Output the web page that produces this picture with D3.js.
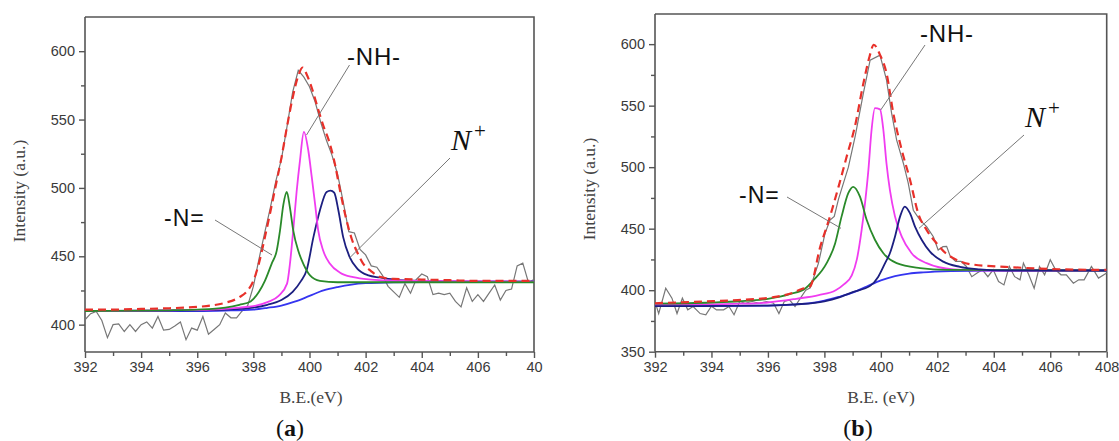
<!DOCTYPE html>
<html><head><meta charset="utf-8">
<script src="https://cdn.jsdelivr.net/npm/d3@7/dist/d3.min.js"></script>
<style>
html,body{margin:0;padding:0;background:#fff;}
svg{display:block;}
</style></head>
<body><svg id="chart" width="1119" height="441"></svg>
<script>
// ---------------- DATA ----------------
const xTicks = [392, 394, 396, 398, 400, 402, 404, 406, 408];
const xTickLabelsA = ["392","394","396","398","400","402","404","406","40"];
const xTickLabelsB = ["392","394","396","398","400","402","404","406","408"];
const yTicksA = [400, 450, 500, 550, 600];
const yTicksB = [350, 400, 450, 500, 550, 600];

// Panel (a)
const aRaw = [[392.0,403.6],[392.2,408],[392.4,409.7],[392.6,403],[392.8,390.5],[393.0,400],[393.2,400.5],[393.4,395],[393.6,400],[393.8,395],[394.0,400],[394.2,402],[394.4,397.5],[394.6,406],[394.8,396],[395.0,396.5],[395.2,399],[395.4,402],[395.6,389],[395.8,397.5],[396.0,396],[396.2,406],[396.4,393],[396.6,396.5],[396.8,400],[397.0,408.5],[397.2,405],[397.4,405],[397.6,410],[397.8,414],[398.0,428],[398.2,448],[398.4,467],[398.6,485],[398.8,505],[399.0,521],[399.2,545],[399.4,570],[399.6,586],[399.8,581],[400.0,574],[400.2,563],[400.4,548],[400.6,535],[400.8,524],[401.0,510],[401.2,490],[401.4,468],[401.6,467],[401.8,455],[402.0,451],[402.2,443],[402.4,442],[402.6,436],[402.8,428],[403.0,424],[403.2,420],[403.4,430],[403.6,423],[403.8,433],[404.0,437],[404.2,435],[404.4,422],[404.6,423],[404.8,422],[405.0,423],[405.2,417],[405.4,413],[405.6,427],[405.8,417],[406.0,422],[406.2,417],[406.4,423],[406.6,429],[406.8,418],[407.0,425],[407.2,426],[407.4,443],[407.6,445],[407.8,431],[408.0,433]];
const aEnvelope = [[392,411],[393,411],[394,411.5],[395,412],[396,413],[396.5,414],[397,416],[397.5,420],[397.8,425],[398,432],[398.2,445],[398.4,463],[398.6,482],[398.8,502],[399,522],[399.2,545],[399.4,566],[399.6,582],[399.75,588],[399.9,583],[400.1,572],[400.3,558],[400.5,545],[400.7,534],[400.9,518],[401.1,497],[401.3,478],[401.5,463],[401.7,453],[401.9,445],[402.2,439],[402.5,435],[403,433.5],[404,433],[405,432.5],[406,432],[408,432]];
const aBackground = [[392,410],[396,410],[397,410.3],[398,411],[398.5,412.3],[399,414],[399.5,417],[400,421],[400.5,425],[401,427.5],[401.5,429.3],[402,430.3],[403,431],[405,431.3],[408,431.5]];
const aNplus = [[392,410],[396,410.5],[397,411],[398,412.5],[398.5,414.5],[399,418],[399.4,424],[399.7,432],[399.9,440],[400.14,464],[400.37,483.5],[400.61,497],[400.75,498],[400.88,496.5],[401.03,483.5],[401.2,464],[401.44,449],[401.7,441],[402.1,436],[402.5,434.5],[403,433],[404,432],[406,431.5],[408,431.5]];
const aNH = [[392,410],[395,410.5],[396.5,411],[397.5,412.5],[398,413.5],[398.5,416.5],[398.9,421],[399.2,430],[399.3,444],[399.42,469],[399.54,497],[399.66,520],[399.8,541],[399.96,527],[400.08,508],[400.2,488],[400.31,469],[400.49,454],[400.73,444.5],[401.09,438],[401.56,434.7],[402.2,433],[403,432.3],[404,432],[408,431.5]];
const aN = [[392,410],[395,410.5],[396,411],[397,412.5],[397.5,414.5],[397.9,417],[398.2,424],[398.41,432],[398.65,444.5],[398.83,454],[398.95,469],[399.07,488],[399.19,497],[399.3,486],[399.42,469],[399.6,454],[399.78,444.5],[400.02,436],[400.37,432],[401,431],[408,431]];

// Panel (b)
const bRaw = [[392.0,390.8],[392.13,381],[392.38,401.6],[392.6,393.5],[392.78,381],[392.97,393.5],[393.16,384],[393.35,386.7],[393.6,381],[393.8,380],[394.0,387],[394.18,384],[394.43,384],[394.62,386.7],[394.8,380],[395.0,390.8],[395.19,389.4],[395.44,390.8],[395.7,389.4],[395.95,390.8],[396.2,389.4],[396.39,381],[396.58,390.8],[396.77,392],[396.96,386.7],[397.15,393.5],[397.34,400],[397.5,402],[397.79,422],[398.02,446],[398.2,457],[398.35,460],[398.5,474],[398.85,500],[399.09,525],[399.38,560],[399.62,587],[399.97,591],[400.2,571],[400.38,544],[400.56,522],[400.8,503],[400.97,487],[401.15,465],[401.39,457],[401.62,451.7],[401.86,443.5],[402.03,432.7],[402.2,435.4],[402.33,435.6],[402.46,427.4],[402.65,423.4],[402.84,423.4],[403.03,419.3],[403.22,411],[403.41,413.9],[403.6,416.6],[403.79,411],[403.98,416.6],[404.17,407],[404.36,404.3],[404.55,419.3],[404.74,411],[404.93,408.4],[405.05,422],[405.24,412.5],[405.43,401.6],[405.62,419.3],[405.8,412.5],[406.0,424.7],[406.19,416.6],[406.38,412.5],[406.57,412.5],[406.82,405.7],[407.01,408.4],[407.2,408.4],[407.46,419.3],[407.71,409.8],[408.0,414]];
const bEnvelope = [[392,389.4],[393.67,390.8],[394.93,392],[396.2,394.3],[396.83,397.5],[397.2,401],[397.49,403],[397.85,435],[398.2,460],[398.5,484],[398.79,508.6],[399.08,533],[399.38,568],[399.6,590],[399.75,599.5],[399.97,591.3],[400.2,576.4],[400.44,544],[400.74,514],[401.03,490],[401.33,462],[401.62,449],[401.98,438],[402.3,430],[402.57,426],[403.2,421],[404.4,419],[406.3,417],[408,416.5]];
const bBackground = [[392,387],[396,387.5],[397,388.5],[397.5,389.5],[398,391.5],[398.5,394.5],[399,398],[399.5,403],[400,408],[400.5,411.5],[401,413.5],[401.5,414.5],[402.5,415.5],[404,416],[408,416]];
const bNplus = [[392,387],[396,387.5],[397,388.5],[398,391],[398.5,394],[399,398.5],[399.62,403.5],[399.91,411],[400.15,422],[400.32,430],[400.5,443.5],[400.68,459.8],[400.85,468],[401.03,462.6],[401.21,451.7],[401.45,440.8],[401.74,431.3],[402.21,423.2],[402.8,419],[403.5,417],[404.5,416],[408,416]];
const bNH = [[392,388],[395,389],[396,390],[397,393],[397.8,396],[398.4,400],[398.7,405],[398.97,412],[399.15,425],[399.32,449],[399.44,471],[399.56,498],[399.67,530],[399.79,548],[399.97,547],[400.09,530],[400.2,503],[400.32,481.5],[400.5,460],[400.74,443.5],[401.09,430],[401.62,422],[402.57,417],[404,416],[408,416]];
const bN = [[392,389],[394,390],[395,391],[396,393],[396.8,397],[397.3,401],[397.61,408],[398.08,422],[398.38,438],[398.61,460],[398.85,479],[399.02,484],[399.26,476],[399.5,457],[399.79,441],[400.09,430],[400.56,422],[401.39,418],[402.33,416.5],[408,416]];

// ---------------- DRAWING ----------------
const svg = d3.select("#chart");
const SANS = "'Liberation Sans', Arial, Helvetica, sans-serif";
const SERIF = "'Liberation Serif', 'Times New Roman', Times, serif";
const colors = {raw:"#777777", env:"#e8302a", bg:"#3535f0", nplus:"#1c1f80", nh:"#f03cf0", n:"#2a8a2a", axis:"#555555"};

function panel(cfg){
  const g = svg.append("g");
  const x = d3.scaleLinear().domain([392,408]).range([cfg.left, cfg.right]);
  const y = d3.scaleLinear().domain(cfg.yDomain).range([cfg.bottom, cfg.top]);
  const clipId = "clip" + cfg.id;
  svg.append("defs").append("clipPath").attr("id", clipId)
    .append("rect").attr("x", cfg.left).attr("y", cfg.top)
    .attr("width", cfg.right-cfg.left).attr("height", cfg.bottom-cfg.top);

  // axes
  const xAxis = d3.axisBottom(x).tickValues(cfg.xTicks).tickSize(6).tickFormat((d,i)=>cfg.xLabels[i]).tickPadding(4);
  const gx = g.append("g").attr("transform",`translate(0,${cfg.bottom})`).call(xAxis);
  const xMinor = d3.axisBottom(x).tickValues(d3.range(393,408,2)).tickSize(4).tickFormat("");
  g.append("g").attr("transform",`translate(0,${cfg.bottom})`).call(xMinor).select(".domain").remove();
  const yAxis = d3.axisLeft(y).tickValues(cfg.yTicks).tickSize(6).tickPadding(4);
  const gy = g.append("g").attr("transform",`translate(${cfg.left},0)`).call(yAxis);
  const minorVals = cfg.yTicks.map(v=>v+25).filter(v=>v<cfg.yDomain[1]);
  if (cfg.yDomain[0] < cfg.yTicks[0]-25) minorVals.push(cfg.yTicks[0]-25);
  const yMinor = d3.axisLeft(y).tickValues(minorVals).tickSize(4).tickFormat("");
  g.append("g").attr("transform",`translate(${cfg.left},0)`).call(yMinor).select(".domain").remove();
  g.selectAll(".domain").attr("stroke", colors.axis).attr("stroke-width",1.6);
  g.selectAll(".tick line").attr("stroke", colors.axis).attr("stroke-width",1.4);
  g.selectAll(".tick text").attr("font-family", SANS).attr("font-size", 14.5).attr("fill","#3a3a3a");
  gx.select(".domain").attr("d", `M${cfg.left},0H${cfg.right}`);
  gy.select(".domain").attr("d", `M0,${cfg.bottom}V${cfg.top}`);
  // frame top and right
  g.append("path").attr("d", `M${cfg.left},${cfg.top}H${cfg.right}V${cfg.bottom}`)
    .attr("fill","none").attr("stroke", colors.axis).attr("stroke-width",1.6);

  const plot = g.append("g").attr("clip-path", `url(#${clipId})`);
  const smooth = d3.line().x(d=>x(d[0])).y(d=>y(d[1])).curve(d3.curveMonotoneX);
  const straight = d3.line().x(d=>x(d[0])).y(d=>y(d[1]));
  plot.append("path").attr("d", straight(cfg.raw)).attr("fill","none").attr("stroke",colors.raw).attr("stroke-width",1.2);
  const order = cfg.order;
  order.forEach(k=>{
    plot.append("path").attr("d", smooth(cfg.series[k])).attr("fill","none")
      .attr("stroke", colors[k]).attr("stroke-width",1.8);
  });
  plot.append("path").attr("d", smooth(cfg.env)).attr("fill","none").attr("stroke",colors.env)
    .attr("stroke-width",2.2).attr("stroke-dasharray","8,5");

  // axis titles
  g.append("text").attr("transform",`translate(${cfg.yTitleX},${cfg.yTitleY}) rotate(-90)`)
    .attr("text-anchor","middle").attr("font-family",SERIF).attr("font-size",17.5).attr("fill","#444")
    .text("Intensity (a.u.)");
  g.append("text").attr("x", cfg.xTitleX).attr("y", 403).attr("text-anchor","middle")
    .attr("font-family",SERIF).attr("font-size",17.5).attr("fill","#444").text(cfg.xTitle);
  const lab = g.append("text").attr("x", cfg.panelX).attr("y", 436).attr("text-anchor","middle")
    .attr("font-family",SERIF).attr("font-size",24).attr("fill","#111");
  lab.append("tspan").text("(");
  lab.append("tspan").attr("font-weight","bold").text(cfg.panelLetter);
  lab.append("tspan").text(")");

  // annotations
  cfg.leaders.forEach(l=>{
    g.append("line").attr("x1",l[0]).attr("y1",l[1]).attr("x2",l[2]).attr("y2",l[3])
      .attr("stroke","#777").attr("stroke-width",1);
  });
  g.append("text").attr("x",cfg.nLab[0]).attr("y",cfg.nLab[1]).attr("font-family",SANS)
    .attr("font-size",23).attr("fill","#111").attr("letter-spacing",1).text("-N=");
  g.append("text").attr("x",cfg.nhLab[0]).attr("y",cfg.nhLab[1]).attr("font-family",SANS)
    .attr("font-size",24).attr("fill","#111").attr("letter-spacing",0.8).text("-NH-");
  const np = g.append("text").attr("x",cfg.npLab[0]).attr("y",cfg.npLab[1]).attr("font-family",SERIF)
    .attr("font-size",30).attr("fill","#111");
  np.append("tspan").attr("font-style","italic").text("N");
  np.append("tspan").attr("font-size",21).attr("dy",-12).attr("dx",3).text("+");
}

panel({id:"a", left:85, right:534, top:17, bottom:352, yDomain:[380,625],
  xTicks, xLabels:xTickLabelsA, yTicks:yTicksA,
  raw:aRaw, env:aEnvelope, series:{bg:aBackground, nplus:aNplus, nh:aNH, n:aN},
  order:["bg","nplus","nh","n"],
  yTitleX:25, yTitleY:191, xTitleX:311, xTitle:"B.E.(eV)", panelX:290, panelLetter:"a",
  leaders:[[215,220,272,255],[349.5,65,306.5,135],[450,158,349.5,258]],
  nLab:[164,226], nhLab:[347,65], npLab:[451,150]});

panel({id:"b", left:655, right:1106.7, top:14, bottom:351.7, yDomain:[350,624.5],
  xTicks, xLabels:xTickLabelsB, yTicks:yTicksB,
  raw:bRaw, env:bEnvelope, series:{bg:bBackground, nh:bNH, n:bN, nplus:bNplus},
  order:["bg","nh","n","nplus"],
  yTitleX:595, yTitleY:189, xTitleX:881, xTitle:"B.E. (eV)", panelX:858, panelLetter:"b",
  leaders:[[787,197,841,228.3],[925,45,880.7,110],[1024,135,919,228.3]],
  nLab:[739,203], nhLab:[920,42], npLab:[1025,127]});
</script>
</body></html>
